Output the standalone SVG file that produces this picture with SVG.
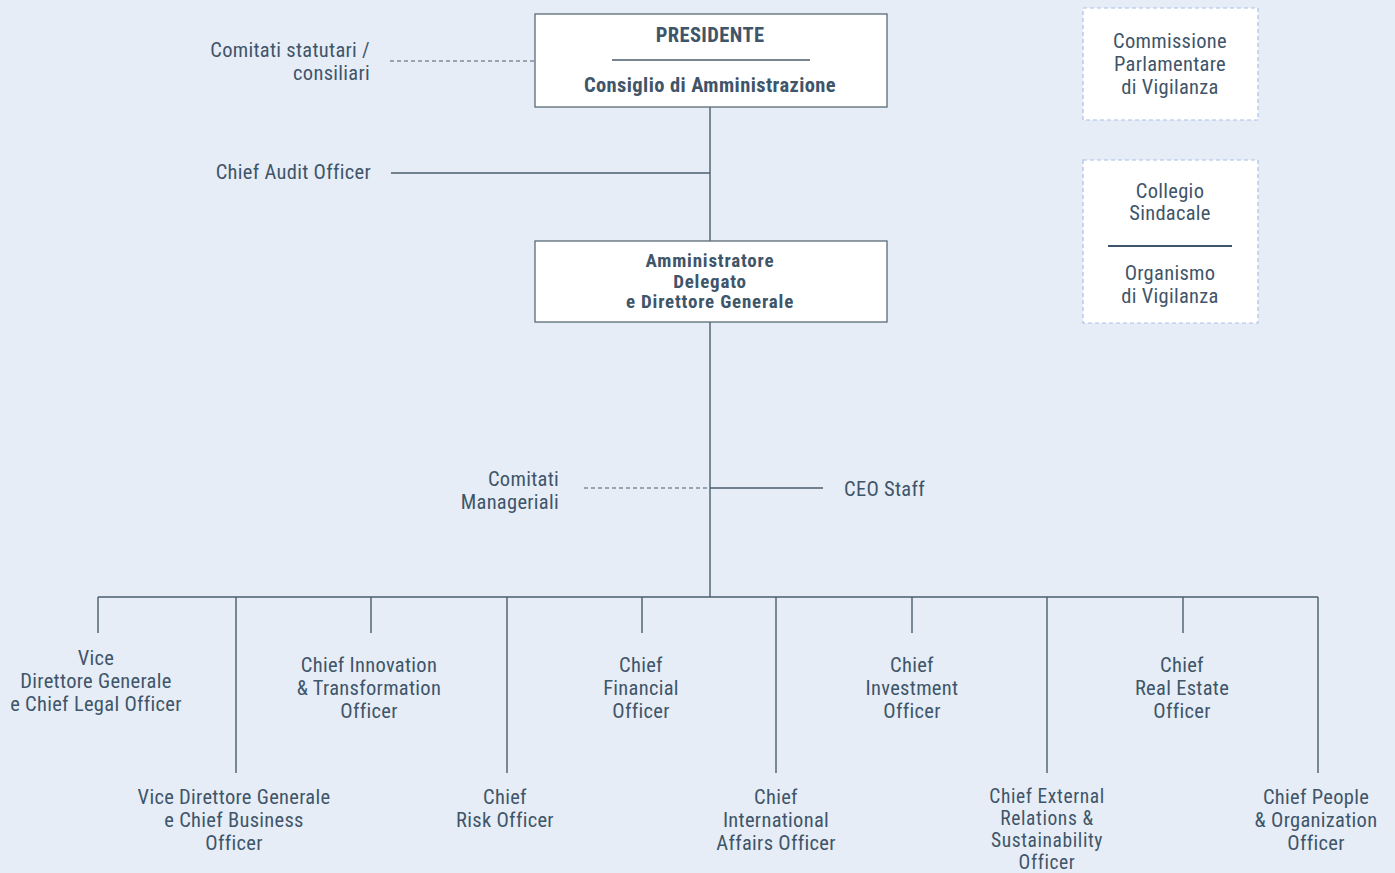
<svg xmlns="http://www.w3.org/2000/svg" width="1395" height="873" viewBox="0 0 1395 873">
<style>
text{font-family:"Liberation Sans Narrow","Roboto Condensed",Roboto,sans-serif;font-size:20.5px;letter-spacing:0.3px;fill:#3f5569;text-anchor:middle}
.b{font-weight:bold;letter-spacing:0.4px}
.ad{font-size:19px;letter-spacing:0.8px}
.sm{font-size:19.5px;letter-spacing:0.6px}
.r{text-anchor:end}
.s{text-anchor:start}
.box{fill:#fff;stroke:#5a6a78;stroke-width:1.3}
.dbox{fill:#fff;stroke:#a9c2e3;stroke-width:1.2;stroke-dasharray:4 3}
.ln{stroke:#4b5d6c;stroke-width:1.4;fill:none}
.dl{stroke:#4b5d6c;stroke-width:1.2;fill:none;stroke-dasharray:4 3}
</style>
<rect width="1395" height="873" fill="#e6edf7"/>
<g id="connectors">
<path class="dl" d="M390 61H535"/>
<path class="ln" d="M710 107V597"/>
<path class="ln" d="M391 173H710"/>
<path class="dl" d="M584 488H710"/>
<path class="ln" d="M710 488H823"/>
<path class="ln" d="M98 597H1318"/>
<path class="ln" d="M98 597V633M371 597V633M642 597V633M912 597V633M1183 597V633"/>
<path class="ln" d="M236 597V773M507 597V773M776 597V773M1047 597V773M1318 597V773"/>
</g>
<g id="presidente">
<rect class="box" x="535" y="14" width="352" height="93"/>
<text class="b" x="710" y="42">PRESIDENTE</text>
<path class="ln" d="M612 60H810"/>
<text class="b" x="710" y="92">Consiglio di Amministrazione</text>
</g>
<g id="comitati-statutari">
<text class="r" x="370" y="57">Comitati statutari /</text>
<text class="r" x="370" y="80">consiliari</text>
</g>
<g id="chief-audit">
<text class="r" x="371" y="179">Chief Audit Officer</text>
</g>
<g id="ad">
<rect class="box" x="535" y="241" width="352" height="81"/>
<text class="b ad" x="710" y="267">Amministratore</text>
<text class="b ad" x="710" y="287.5">Delegato</text>
<text class="b ad" x="710" y="308">e Direttore Generale</text>
</g>
<g id="comitati-manageriali">
<text class="r" x="559" y="486">Comitati</text>
<text class="r" x="559" y="509">Manageriali</text>
</g>
<g id="ceo-staff">
<text class="s" x="844" y="496">CEO Staff</text>
</g>
<g id="commissione">
<rect class="dbox" x="1083" y="8" width="175" height="112"/>
<text x="1170" y="48">Commissione</text>
<text x="1170" y="71">Parlamentare</text>
<text x="1170" y="94">di Vigilanza</text>
</g>
<g id="collegio">
<rect class="dbox" x="1083" y="160" width="175" height="163"/>
<text x="1170" y="198">Collegio</text>
<text x="1170" y="220">Sindacale</text>
<path d="M1108 246H1232" stroke="#3f5569" stroke-width="2.2"/>
<text x="1170" y="280">Organismo</text>
<text x="1170" y="303">di Vigilanza</text>
</g>
<g id="vdg-legal">
<text x="96" y="665">Vice</text>
<text x="96" y="688">Direttore Generale</text>
<text x="96" y="711">e Chief Legal Officer</text>
</g>
<g id="innovation">
<text x="369" y="672">Chief Innovation</text>
<text x="369" y="695">&amp; Transformation</text>
<text x="369" y="718">Officer</text>
</g>
<g id="cfo">
<text x="641" y="672">Chief</text>
<text x="641" y="695">Financial</text>
<text x="641" y="718">Officer</text>
</g>
<g id="investment">
<text x="912" y="672">Chief</text>
<text x="912" y="695">Investment</text>
<text x="912" y="718">Officer</text>
</g>
<g id="real-estate">
<text x="1182" y="672">Chief</text>
<text x="1182" y="695">Real Estate</text>
<text x="1182" y="718">Officer</text>
</g>
<g id="vdg-business">
<text x="234" y="804">Vice Direttore Generale</text>
<text x="234" y="827">e Chief Business</text>
<text x="234" y="850">Officer</text>
</g>
<g id="risk">
<text x="505" y="804">Chief</text>
<text x="505" y="827">Risk Officer</text>
</g>
<g id="international">
<text x="776" y="804">Chief</text>
<text x="776" y="827">International</text>
<text x="776" y="850">Affairs Officer</text>
</g>
<g id="external">
<text class="sm" x="1047" y="803">Chief External</text>
<text class="sm" x="1047" y="825">Relations &amp;</text>
<text class="sm" x="1047" y="847">Sustainability</text>
<text class="sm" x="1047" y="869">Officer</text>
</g>
<g id="people">
<text x="1316" y="804">Chief People</text>
<text x="1316" y="827">&amp; Organization</text>
<text x="1316" y="850">Officer</text>
</g>
</svg>
